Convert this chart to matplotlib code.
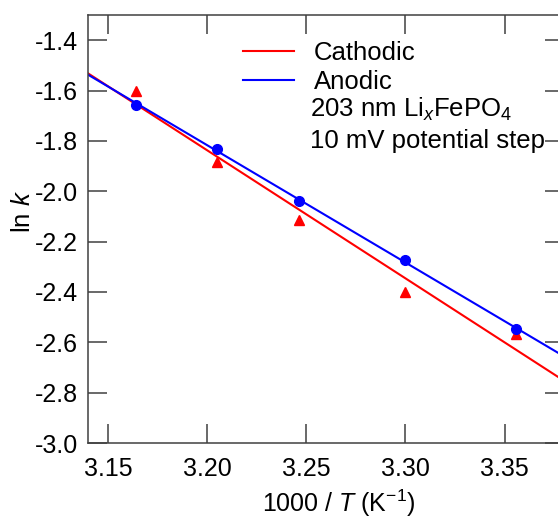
import numpy as np
import matplotlib
matplotlib.use("Agg")
import matplotlib.pyplot as plt

plt.rcParams['font.family'] = ['Liberation Sans', 'DejaVu Sans']
plt.rcParams['mathtext.fontset'] = 'custom'
plt.rcParams['mathtext.rm'] = 'Liberation Sans'
plt.rcParams['mathtext.it'] = 'Liberation Sans:italic'
plt.rcParams['mathtext.bf'] = 'Liberation Sans:bold'
plt.rcParams['axes.unicode_minus'] = False

# Data
inv_T = [3.1643, 3.2052, 3.2466, 3.3000, 3.3556]
ln_k_cathodic = [-1.600, -1.884, -2.115, -2.400, -2.568]
ln_k_anodic = [-1.657, -1.832, -2.039, -2.274, -2.548]
xticks = [3.15, 3.20, 3.25, 3.30, 3.35]
yticks = [-3.0, -2.8, -2.6, -2.4, -2.2, -2.0, -1.8, -1.6, -1.4]

fig = plt.figure(figsize=(5.58, 5.21), dpi=100)
ax = fig.add_axes([88/558, 1-443/521, (564-88)/558, (443-15)/521])

xlim = (3.14, 3.38)
xs = np.array(xlim)
x = np.array(inv_T)
pc = np.polyfit(x, ln_k_cathodic, 1)
pa = np.polyfit(x, ln_k_anodic, 1)

ax.plot(xs, np.polyval(pc, xs), color='#ff0000', lw=1.5, label='Cathodic', zorder=2)
ax.plot(xs, np.polyval(pa, xs), color='#0000ff', lw=1.5, label='Anodic', zorder=2)
ax.plot(x, ln_k_cathodic, ls='none', marker='^', ms=7.5, color='#ff0000', zorder=3)
ax.plot(x, ln_k_anodic, ls='none', marker='o', ms=7, color='#0000ff', zorder=3)

ax.set_xlim(*xlim)
ax.set_ylim(-3.0, -1.3)
ax.set_xticks(xticks)
ax.set_xticklabels([f"{v:.2f}" for v in xticks])
ax.set_yticks(yticks)
ax.set_yticklabels([f"{v:.1f}" for v in yticks])

spc = '#404040'
for s in ax.spines.values():
    s.set_color(spc)
    s.set_linewidth(1.1)
ax.tick_params(axis='both', which='major', direction='in', length=13.5, width=1.1,
               color=spc, labelsize=18, top=True, right=True, labelcolor='black')
ax.tick_params(axis='x', pad=10)
ax.tick_params(axis='y', pad=7)

ax.set_xlabel('1000 / $\\mathit{T}$ (K$^{-1}$)', fontsize=18)
ax.xaxis.set_label_coords((338.5-88)/476, (443-488)/428)
ax.set_ylabel('ln $\\mathit{k}$', fontsize=18.5)
ax.yaxis.set_label_coords((23-88)/476, (443-211)/428)
ax.yaxis.label.set_va('center')

leg = ax.legend(loc='upper left', bbox_to_anchor=(155/476, 1 - 26/428), frameon=False,
                fontsize=18.5, handlelength=2.0, handletextpad=0.75, labelspacing=0.2,
                borderaxespad=0, borderpad=0)
ax.text((310-88)/476, 1-(109-15)/428, '203 nm Li$_\\mathit{x}$FePO$_4$', transform=ax.transAxes,
        fontsize=18.5, va='center', ha='left')
ax.text((310-88)/476, 1-(141-15)/428, '10 mV potential step', transform=ax.transAxes,
        fontsize=18.5, va='center', ha='left')

fig.savefig('out.png', dpi=100)
